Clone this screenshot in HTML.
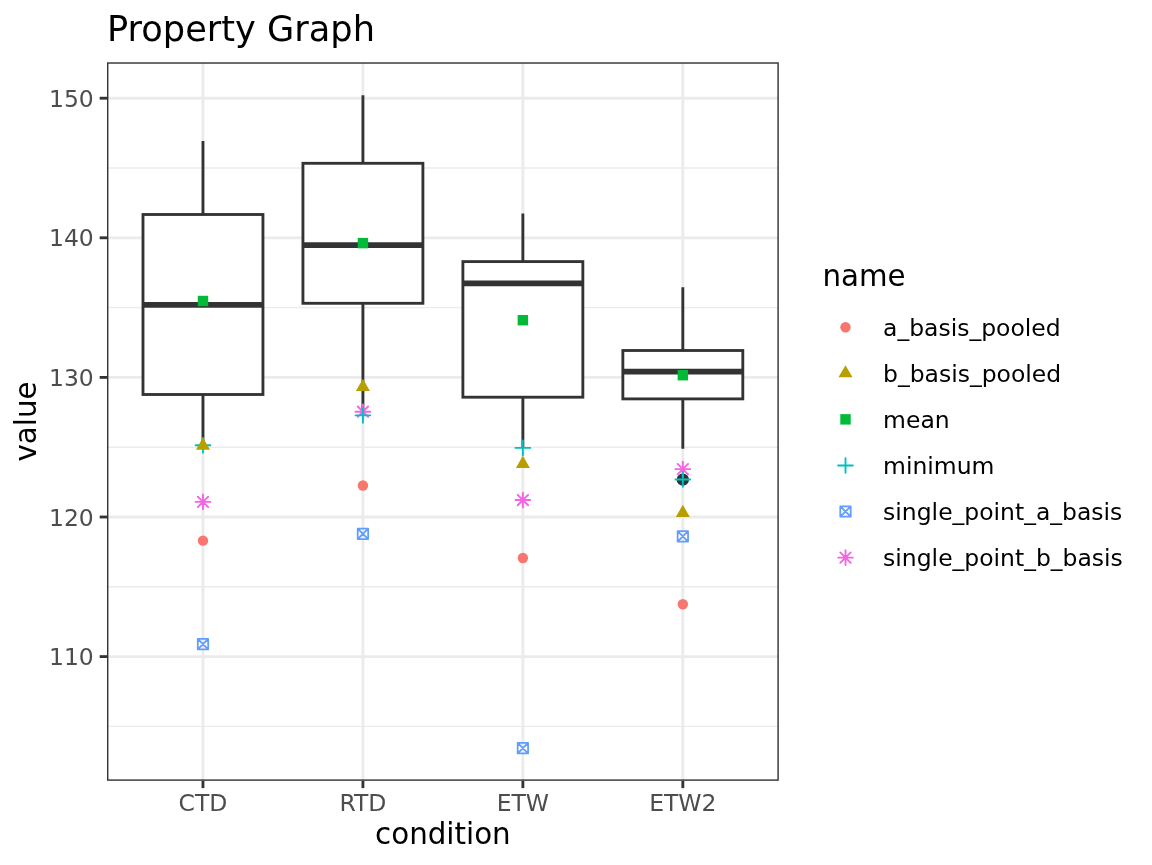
<!DOCTYPE html>
<html lang="en"><head><meta charset="utf-8"><title>Property Graph</title>
<style>html,body{margin:0;padding:0;background:#fff}svg{display:block;will-change:transform}</style>
</head><body>
<svg width="1152" height="865" viewBox="0 0 1152 865" font-family="'DejaVu Sans','Liberation Sans',sans-serif">
<rect width="1152" height="865" fill="#fff"/>
<defs><clipPath id="pc"><rect x="107.00" y="62.30" width="671.80" height="718.50"/></clipPath></defs>
<g clip-path="url(#pc)">
<line x1="107.00" x2="778.80" y1="726.40" y2="726.40" stroke="#EBEBEB" stroke-width="1.42"/>
<line x1="107.00" x2="778.80" y1="586.80" y2="586.80" stroke="#EBEBEB" stroke-width="1.42"/>
<line x1="107.00" x2="778.80" y1="447.20" y2="447.20" stroke="#EBEBEB" stroke-width="1.42"/>
<line x1="107.00" x2="778.80" y1="307.60" y2="307.60" stroke="#EBEBEB" stroke-width="1.42"/>
<line x1="107.00" x2="778.80" y1="168.00" y2="168.00" stroke="#EBEBEB" stroke-width="1.42"/>
<line x1="107.00" x2="778.80" y1="656.60" y2="656.60" stroke="#EBEBEB" stroke-width="2.85"/>
<line x1="107.00" x2="778.80" y1="517.00" y2="517.00" stroke="#EBEBEB" stroke-width="2.85"/>
<line x1="107.00" x2="778.80" y1="377.40" y2="377.40" stroke="#EBEBEB" stroke-width="2.85"/>
<line x1="107.00" x2="778.80" y1="237.80" y2="237.80" stroke="#EBEBEB" stroke-width="2.85"/>
<line x1="107.00" x2="778.80" y1="98.20" y2="98.20" stroke="#EBEBEB" stroke-width="2.85"/>
<line x1="202.97" x2="202.97" y1="62.30" y2="780.80" stroke="#EBEBEB" stroke-width="2.85"/>
<line x1="362.92" x2="362.92" y1="62.30" y2="780.80" stroke="#EBEBEB" stroke-width="2.85"/>
<line x1="522.88" x2="522.88" y1="62.30" y2="780.80" stroke="#EBEBEB" stroke-width="2.85"/>
<line x1="682.83" x2="682.83" y1="62.30" y2="780.80" stroke="#EBEBEB" stroke-width="2.85"/>
<path d="M202.97 141.10V214.50M202.97 394.50V445.30" stroke="#333" stroke-width="2.85" fill="none"/>
<rect x="142.99" y="214.50" width="119.96" height="180.00" fill="#fff" stroke="#333" stroke-width="2.85"/>
<line x1="142.99" x2="262.95" y1="304.80" y2="304.80" stroke="#333" stroke-width="5.69"/>
<path d="M362.92 95.20V163.30M362.92 303.30V415.40" stroke="#333" stroke-width="2.85" fill="none"/>
<rect x="302.94" y="163.30" width="119.96" height="140.00" fill="#fff" stroke="#333" stroke-width="2.85"/>
<line x1="302.94" x2="422.91" y1="245.10" y2="245.10" stroke="#333" stroke-width="5.69"/>
<path d="M522.88 213.40V261.60M522.88 397.20V448.00" stroke="#333" stroke-width="2.85" fill="none"/>
<rect x="462.89" y="261.60" width="119.96" height="135.60" fill="#fff" stroke="#333" stroke-width="2.85"/>
<line x1="462.89" x2="582.86" y1="283.30" y2="283.30" stroke="#333" stroke-width="5.69"/>
<path d="M682.83 287.20V350.50M682.83 398.90V448.70" stroke="#333" stroke-width="2.85" fill="none"/>
<rect x="622.85" y="350.50" width="119.96" height="48.40" fill="#fff" stroke="#333" stroke-width="2.85"/>
<line x1="622.85" x2="742.81" y1="371.60" y2="371.60" stroke="#333" stroke-width="5.69"/>
<circle cx="682.83" cy="479.70" r="5.21" fill="#333" stroke="#333" stroke-width="1.89"/>
<circle cx="202.97" cy="540.60" r="5.21" fill="#F8766D"/>
<circle cx="362.92" cy="485.50" r="5.21" fill="#F8766D"/>
<circle cx="522.88" cy="558.00" r="5.21" fill="#F8766D"/>
<circle cx="682.83" cy="604.30" r="5.21" fill="#F8766D"/>
<rect x="197.76" y="295.79" width="10.43" height="10.43" fill="#00BA38"/>
<rect x="357.71" y="237.89" width="10.43" height="10.43" fill="#00BA38"/>
<rect x="517.66" y="314.99" width="10.43" height="10.43" fill="#00BA38"/>
<rect x="677.62" y="369.99" width="10.43" height="10.43" fill="#00BA38"/>
<path d="M197.76 638.89H208.18V649.31H197.76ZM197.76 638.89L208.18 649.31M197.76 649.31L208.18 638.89" stroke="#619CFF" stroke-width="1.75" stroke-linejoin="round" stroke-linecap="round" fill="none"/>
<path d="M357.71 528.59H368.14V539.01H357.71ZM357.71 528.59L368.14 539.01M357.71 539.01L368.14 528.59" stroke="#619CFF" stroke-width="1.75" stroke-linejoin="round" stroke-linecap="round" fill="none"/>
<path d="M517.66 742.99H528.09V753.41H517.66ZM517.66 742.99L528.09 753.41M517.66 753.41L528.09 742.99" stroke="#619CFF" stroke-width="1.75" stroke-linejoin="round" stroke-linecap="round" fill="none"/>
<path d="M677.62 531.19H688.04V541.61H677.62ZM677.62 531.19L688.04 541.61M677.62 541.61L688.04 531.19" stroke="#619CFF" stroke-width="1.75" stroke-linejoin="round" stroke-linecap="round" fill="none"/>
<path d="M197.76 496.69L208.18 507.11M197.76 507.11L208.18 496.69M195.60 501.90H210.34M202.97 494.53V509.27" stroke="#F564E3" stroke-width="1.89" stroke-linecap="round" fill="none"/>
<path d="M357.71 406.49L368.14 416.91M357.71 416.91L368.14 406.49M355.55 411.70H370.30M362.92 404.33V419.07" stroke="#F564E3" stroke-width="1.89" stroke-linecap="round" fill="none"/>
<path d="M517.66 494.84L528.09 505.26M517.66 505.26L528.09 494.84M515.50 500.05H530.25M522.88 492.68V507.42" stroke="#F564E3" stroke-width="1.89" stroke-linecap="round" fill="none"/>
<path d="M677.62 463.94L688.04 474.36M677.62 474.36L688.04 463.94M675.46 469.15H690.20M682.83 461.78V476.52" stroke="#F564E3" stroke-width="1.89" stroke-linecap="round" fill="none"/>
<path d="M195.60 445.30H210.34M202.97 437.93V452.67" stroke="#00BFC4" stroke-width="1.89" stroke-linecap="round" fill="none"/>
<path d="M355.55 415.40H370.30M362.92 408.03V422.77" stroke="#00BFC4" stroke-width="1.89" stroke-linecap="round" fill="none"/>
<path d="M515.50 447.90H530.25M522.88 440.53V455.27" stroke="#00BFC4" stroke-width="1.89" stroke-linecap="round" fill="none"/>
<path d="M675.46 479.50H690.20M682.83 472.13V486.87" stroke="#00BFC4" stroke-width="1.89" stroke-linecap="round" fill="none"/>
<path d="M202.97 437.49L209.99 449.65L195.95 449.65Z" fill="#B79F00"/>
<path d="M362.92 378.79L369.94 390.95L355.90 390.95Z" fill="#B79F00"/>
<path d="M522.88 455.79L529.90 467.95L515.86 467.95Z" fill="#B79F00"/>
<path d="M682.83 504.79L689.85 516.95L675.81 516.95Z" fill="#B79F00"/>
</g>
<rect x="107.71" y="63.01" width="670.38" height="717.08" fill="none" stroke="#333" stroke-width="1.42"/>
<line x1="99.67" x2="107.00" y1="656.60" y2="656.60" stroke="#333" stroke-width="2.85"/>
<text x="93.80" y="665.10" font-size="23.47" fill="#4D4D4D" text-anchor="end">110</text>
<line x1="99.67" x2="107.00" y1="517.00" y2="517.00" stroke="#333" stroke-width="2.85"/>
<text x="93.80" y="525.50" font-size="23.47" fill="#4D4D4D" text-anchor="end">120</text>
<line x1="99.67" x2="107.00" y1="377.40" y2="377.40" stroke="#333" stroke-width="2.85"/>
<text x="93.80" y="385.90" font-size="23.47" fill="#4D4D4D" text-anchor="end">130</text>
<line x1="99.67" x2="107.00" y1="237.80" y2="237.80" stroke="#333" stroke-width="2.85"/>
<text x="93.80" y="246.30" font-size="23.47" fill="#4D4D4D" text-anchor="end">140</text>
<line x1="99.67" x2="107.00" y1="98.20" y2="98.20" stroke="#333" stroke-width="2.85"/>
<text x="93.80" y="106.70" font-size="23.47" fill="#4D4D4D" text-anchor="end">150</text>
<line x1="202.97" x2="202.97" y1="780.80" y2="788.13" stroke="#333" stroke-width="2.85"/>
<text x="202.97" y="810.90" font-size="23.47" fill="#4D4D4D" text-anchor="middle">CTD</text>
<line x1="362.92" x2="362.92" y1="780.80" y2="788.13" stroke="#333" stroke-width="2.85"/>
<text x="362.92" y="810.90" font-size="23.47" fill="#4D4D4D" text-anchor="middle">RTD</text>
<line x1="522.88" x2="522.88" y1="780.80" y2="788.13" stroke="#333" stroke-width="2.85"/>
<text x="522.88" y="810.90" font-size="23.47" fill="#4D4D4D" text-anchor="middle">ETW</text>
<line x1="682.83" x2="682.83" y1="780.80" y2="788.13" stroke="#333" stroke-width="2.85"/>
<text x="682.83" y="810.90" font-size="23.47" fill="#4D4D4D" text-anchor="middle">ETW2</text>
<text x="107.00" y="40.90" font-size="35.20" fill="#000">Property Graph</text>
<text x="442.90" y="844.00" font-size="29.33" fill="#000" text-anchor="middle">condition</text>
<text transform="translate(36.20 421.55) rotate(-90)" font-size="29.33" fill="#000" text-anchor="middle">value</text>
<text x="822.40" y="286.20" font-size="29.33" fill="#000">name</text>
<circle cx="845.50" cy="327.20" r="5.21" fill="#F8766D"/>
<text x="883.10" y="335.70" font-size="23.47" fill="#000">a_basis_pooled</text>
<path d="M845.50 365.17L852.52 377.33L838.48 377.33Z" fill="#B79F00"/>
<text x="883.10" y="381.78" font-size="23.47" fill="#000">b_basis_pooled</text>
<rect x="840.29" y="414.15" width="10.43" height="10.43" fill="#00BA38"/>
<text x="883.10" y="427.86" font-size="23.47" fill="#000">mean</text>
<path d="M838.13 465.44H852.87M845.50 458.07V472.81" stroke="#00BFC4" stroke-width="1.89" stroke-linecap="round" fill="none"/>
<text x="883.10" y="473.94" font-size="23.47" fill="#000">minimum</text>
<path d="M840.29 506.31H850.71V516.73H840.29ZM840.29 506.31L850.71 516.73M840.29 516.73L850.71 506.31" stroke="#619CFF" stroke-width="1.75" stroke-linejoin="round" stroke-linecap="round" fill="none"/>
<text x="883.10" y="520.02" font-size="23.47" fill="#000">single_point_a_basis</text>
<path d="M840.29 552.39L850.71 562.81M840.29 562.81L850.71 552.39M838.13 557.60H852.87M845.50 550.23V564.97" stroke="#F564E3" stroke-width="1.89" stroke-linecap="round" fill="none"/>
<text x="883.10" y="566.10" font-size="23.47" fill="#000">single_point_b_basis</text>
</svg>
</body></html>
